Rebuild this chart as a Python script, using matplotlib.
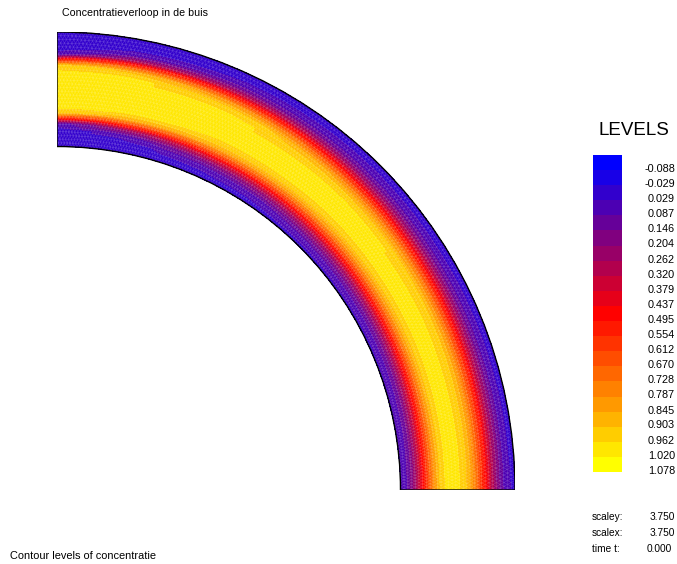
import numpy as np
import matplotlib
matplotlib.use("Agg")
import matplotlib.pyplot as plt
import matplotlib.tri as mtri
from matplotlib.patches import Wedge
from matplotlib.colors import LinearSegmentedColormap
from matplotlib import transforms

plt.rcParams['font.family'] = ['Liberation Sans', 'DejaVu Sans']

# contour levels shown in the legend
levels = [-0.088, -0.029, 0.029, 0.087, 0.146, 0.204, 0.262, 0.320, 0.379, 0.437,
          0.495, 0.554, 0.612, 0.670, 0.728, 0.787, 0.845, 0.903, 0.962, 1.020, 1.078]

# radial positions across the pipe (inner wall r=3, outer wall r=4)
radii = [3.00, 3.05, 3.10, 3.15, 3.20, 3.25, 3.30, 3.35, 3.40, 3.45, 3.50,
         3.55, 3.60, 3.65, 3.70, 3.75, 3.80, 3.85, 3.90, 3.95, 4.00]
# angles (degrees) of the sections, inlet at 90
angles = [90, 80, 65, 45, 25, 0]

# concentration profiles at each section
conc_90 = [0.03, 0.03, 0.03, 0.03, 0.08, 0.55, 0.97, 1.00, 1.00, 1.00, 1.00,
           1.00, 1.00, 1.00, 0.97, 0.60, 0.10, 0.03, 0.03, 0.03, 0.03]
conc_80 = [0.03, 0.03, 0.04, 0.08, 0.25, 0.60, 0.90, 1.00, 1.00, 1.00, 1.00,
           1.00, 1.00, 1.00, 0.92, 0.65, 0.30, 0.10, 0.04, 0.03, 0.03]
conc_65 = [0.03, 0.05, 0.09, 0.20, 0.40, 0.66, 0.87, 0.98, 1.00, 1.00, 1.00,
           1.00, 1.00, 0.96, 0.83, 0.60, 0.35, 0.16, 0.07, 0.04, 0.03]
conc_45 = [0.04, 0.07, 0.14, 0.27, 0.46, 0.67, 0.85, 0.96, 1.00, 1.00, 1.00,
           1.00, 0.95, 0.85, 0.68, 0.48, 0.30, 0.16, 0.08, 0.05, 0.04]
conc_25 = [0.04, 0.08, 0.16, 0.30, 0.48, 0.68, 0.85, 0.95, 1.00, 1.00, 1.00,
           0.98, 0.92, 0.80, 0.64, 0.46, 0.30, 0.17, 0.09, 0.05, 0.04]
conc_0 = [0.05, 0.10, 0.19, 0.32, 0.48, 0.66, 0.82, 0.94, 1.00, 1.00, 1.00,
          0.97, 0.89, 0.77, 0.62, 0.47, 0.32, 0.20, 0.11, 0.06, 0.05]
profiles = [conc_90, conc_80, conc_65, conc_45, conc_25, conc_0]

# build triangulation in (angle, radius) space
nt, nr = len(angles), len(radii)
T, R = np.meshgrid(np.radians(angles) * 3.5, radii, indexing='ij')
C = np.array(profiles)
idx = np.arange(nt * nr).reshape(nt, nr)
tris = []
for i in range(nt - 1):
    for j in range(nr - 1):
        a, b, c, d = idx[i, j], idx[i + 1, j], idx[i + 1, j + 1], idx[i, j + 1]
        tris.append([a, b, c])
        tris.append([a, c, d])
tri_p = mtri.Triangulation(T.ravel(), R.ravel(), np.array(tris))
refiner = mtri.UniformTriRefiner(tri_p)
tri_r, c_r = refiner.refine_field(C.ravel(),
                                  triinterpolator=mtri.LinearTriInterpolator(tri_p, C.ravel()),
                                  subdiv=3)
th = tri_r.x / 3.5
x = tri_r.y * np.cos(th)
y = tri_r.y * np.sin(th)
tri_xy = mtri.Triangulation(x, y, tri_r.triangles)

# finite element mesh drawn faintly on top (texture)
mr = np.linspace(3, 4, 32)
mt = np.linspace(0, np.pi / 2, 190)
MT, MR = np.meshgrid(mt, mr)
MT = MT + (np.arange(len(mr))[:, None] % 2) * (mt[1] - mt[0]) / 2
MT = np.clip(MT, 0, np.pi / 2)
mesh = mtri.Triangulation((MR * np.cos(MT)).ravel(), (MR * np.sin(MT)).ravel())
mx, my = mesh.x[mesh.triangles].mean(axis=1), mesh.y[mesh.triangles].mean(axis=1)
mrad = np.hypot(mx, my)
mesh.set_mask((mrad < 3.0) | (mrad > 4.0))

cmap = LinearSegmentedColormap.from_list('bry', ['#0000ff', '#ff0000', '#ffff00'])
lev = np.array(levels)
bounds = np.concatenate([[lev[0] - (lev[1] - lev[0]) / 2],
                         (lev[:-1] + lev[1:]) / 2,
                         [lev[-1] + (lev[-1] - lev[-2]) / 2]])
colors = [cmap(k) for k in np.linspace(0, 1, len(levels))]

fig = plt.figure(figsize=(6.77, 5.64), dpi=100)
W, H = 677, 564
ax = fig.add_axes([57 / W, (H - 490) / H, 458 / W, 458 / H])
cs = ax.tricontourf(tri_xy, c_r, levels=bounds, colors=colors)
ax.triplot(mesh, color='white', lw=0.35, alpha=0.22)
ax.add_patch(Wedge((0, 0), 4, 0, 90, width=1, fill=False, ec='black', lw=1.0))
ax.set_xlim(0, 4)
ax.set_ylim(0, 4)
ax.set_aspect('equal')
ax.axis('off')

# legend colour blocks
cax = fig.add_axes([593 / W, (H - 472) / H, 29 / W, 317 / H])
cb = fig.colorbar(cs, cax=cax)
cb.outline.set_visible(False)
cax.invert_yaxis()
cax.set_yticks([])
blend = transforms.blended_transform_factory(fig.transFigure, cax.transData)
step = lev[1] - lev[0]
for v in levels:
    cax.text(675 / W, v + 0.42 * step, f"{v:.3f}", transform=blend,
             ha='right', va='center', fontsize=7.8)

fig.text(598 / W, 1 - 130 / H, "LEVELS", fontsize=13.5, ha='left', va='center')
fig.text(62 / W, 1 - 13 / H, "Concentratieverloop in de buis", fontsize=7.7,
         ha='left', va='center')
fig.text(10 / W, 1 - 556 / H, "Contour levels of concentratie", fontsize=7.9,
         ha='left', va='center')

info_labels = ["scaley:", "scalex:", "time t:"]
info_values = ["3.750", "3.750", "0.000"]
info_right = [675, 675, 672]
for k, (lab, val) in enumerate(zip(info_labels, info_values)):
    yy = 1 - (517 + 16 * k) / H
    fig.text(592 / W, yy, lab, fontsize=7.3, ha='left', va='center')
    fig.text(info_right[k] / W, yy, val, fontsize=7.3, ha='right', va='center')

fig.savefig("out.png", dpi=100)
